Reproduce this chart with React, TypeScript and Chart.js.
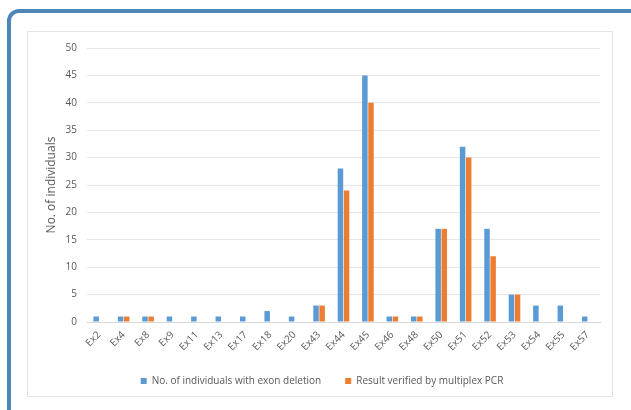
import React, { useEffect, useRef } from "react";
import { Chart, registerables } from "chart.js";

Chart.register(...registerables);

const categories = ["Ex2","Ex4","Ex8","Ex9","Ex11","Ex13","Ex17","Ex18","Ex20","Ex43","Ex44","Ex45","Ex46","Ex48","Ex50","Ex51","Ex52","Ex53","Ex54","Ex55","Ex57"];
const deletionCounts = [1,1,1,1,1,1,1,2,1,3,28,45,1,1,17,32,17,5,3,3,1];
const verifiedCounts = [0,1,1,0,0,0,0,0,0,3,24,40,1,1,17,30,12,5,0,0,0];
const yTicks = [0,5,10,15,20,25,30,35,40,45,50];

const FONT = "'Open Sans', 'Noto Sans', sans-serif";

export default function App() {
  const ref = useRef<HTMLCanvasElement | null>(null);
  useEffect(() => {
    document.body.style.margin = "0";
    const ctx = ref.current!;
    const chart = new Chart(ctx, {
      type: "bar",
      data: {
        labels: categories,
        datasets: [
          { label: "No. of individuals with exon deletion", data: deletionCounts, backgroundColor: "#5b9bd5", categoryPercentage: 0.5, barPercentage: 0.9 },
          { label: "Result verified by multiplex PCR", data: verifiedCounts, backgroundColor: "#ed7d31", categoryPercentage: 0.5, barPercentage: 0.9 },
        ],
      },
      options: {
        animation: false,
        responsive: false,
        layout: { padding: { top: 15, right: 12, left: 16, bottom: 0 } },
        plugins: {
          legend: {
            position: "bottom",
            labels: { boxWidth: 6, boxHeight: 6, padding: 24, color: "#595959", font: { family: FONT, size: 10 } },
          },
          tooltip: { enabled: false },
        },
        scales: {
          x: {
            grid: { display: false, drawTicks: false },
            border: { color: "#d9d9d9" },
            ticks: { color: "#595959", font: { family: FONT, size: 10 }, maxRotation: 45, minRotation: 45, padding: 7 },
            afterFit: (s: any) => { s.height = 30; },
          },
          y: {
            min: 0,
            max: 50,
            afterBuildTicks: (s: any) => { s.ticks = yTicks.map((v) => ({ value: v })); },
            grid: { color: "#e6e6e6", drawTicks: false },
            border: { display: false },
            ticks: { color: "#595959", font: { family: FONT, size: 10 }, padding: 10 },
            title: { display: true, text: "No. of individuals", color: "#595959", font: { family: FONT, size: 12 }, padding: 0 },
            afterFit: (s: any) => { s.width = 43; },
          },
        },
      },
    });
    return () => chart.destroy();
  }, []);
  return (
    <div style={{ position: "fixed", left: 0, top: 0, width: 631, height: 410, overflow: "hidden", background: "#fff" }}>
      <div style={{ position: "absolute", left: 7, top: 9, width: 640, height: 420, border: "4px solid #4f86b8", borderRadius: 12, boxSizing: "border-box" }} />
      <div style={{ position: "absolute", left: 27, top: 31, width: 586, height: 366, border: "1px solid #e3e3e3", boxSizing: "border-box" }}>
        <canvas ref={ref} width={584} height={364} style={{ display: "block" }} />
      </div>
    </div>
  );
}
